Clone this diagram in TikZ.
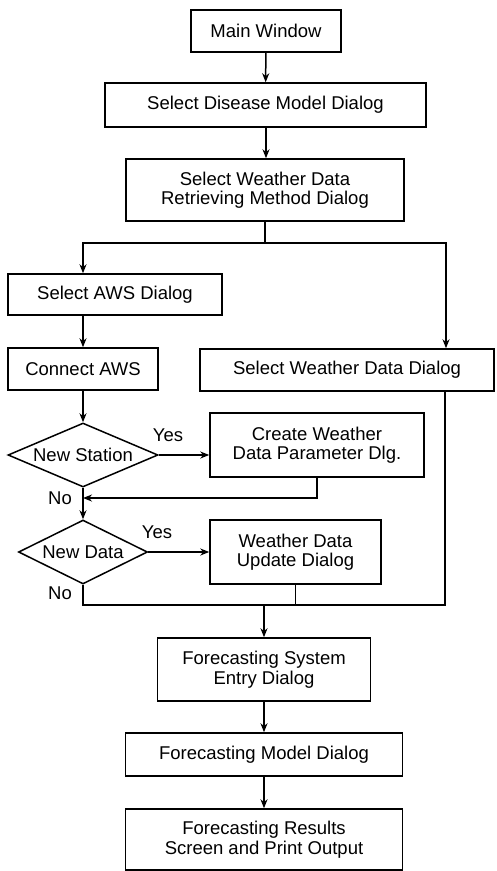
\documentclass[tikz,border=0pt]{standalone}
\usepackage{fontspec}
\setmainfont{Liberation Sans}
\usepackage{tikz}
\usetikzlibrary{positioning,shapes.geometric,arrows.meta}

\begin{document}
\begin{tikzpicture}[x=1pt, y=-1pt,
  every node/.style={font=\fontsize{18.5}{19.5}\selectfont},
  box/.style={draw, line width=1.5pt, align=center, inner sep=0pt},
  decision/.style={draw, diamond, line width=1.5pt, inner sep=0pt},
  flow/.style={line width=1.5pt, -{Stealth[length=9pt, width=7pt]}},
  link/.style={line width=1.5pt}]
  \useasboundingbox (0,0) rectangle (496,871);
  % Nodes
  \node[box, minimum width=150pt, minimum height=42pt] (main) at (266,31) {Main Window};
  \node[box, minimum width=321pt, minimum height=44pt] (disease) at (265.5,105) {Select Disease Model Dialog};
  \node[box, minimum width=278pt, minimum height=62pt] (method) at (265,190) {Select Weather Data\\Retrieving Method Dialog};
  \node[box, minimum width=214pt, minimum height=41pt] (aws) at (115,294.5) {Select AWS Dialog};
  \node[box, minimum width=150pt, minimum height=42pt] (connect) at (83,369) {Connect AWS};
  \node[box, minimum width=294pt, minimum height=42pt] (weather) at (347,370) {Select Weather Data Dialog};
  \node[decision, aspect=2.34, minimum width=150pt, minimum height=64pt] (station) at (83,455) {New Station};
  \node[box, minimum width=214pt, minimum height=64pt] (param) at (317,445) {Create Weather\\Data Parameter Dlg.};
  \node[decision, aspect=2.0, minimum width=129pt, minimum height=64pt] (newdata) at (83,552) {New Data};
  \node[box, minimum width=171pt, minimum height=64pt] (update) at (295.5,552) {Weather Data\\Update Dialog};
  \node[box, minimum width=213pt, minimum height=63pt] (entry) at (264,669.5) {Forecasting System\\Entry Dialog};
  \node[box, minimum width=277pt, minimum height=43pt] (model) at (264,754.5) {Forecasting Model Dialog};
  \node[box, minimum width=277pt, minimum height=61pt] (results) at (264,839.5) {Forecasting Results\\Screen and Print Output};
  % Labels
  \node (yes1) at (168,435) {Yes};
  \node (no1) at (60,498) {No};
  \node (yes2) at (157,532) {Yes};
  \node (no2) at (60,593) {No};
  % Junctions
  \coordinate (split) at (265,243);
  \coordinate (rbus) at (446,243);
  \coordinate (join) at (83,498);
  \coordinate (bl) at (83,605);
  \coordinate (br) at (445,605);
  % Edges
  \draw[flow] (main) -- (disease);
  \draw[flow] (disease.south -| main) -- (method.north -| main);
  \draw[link] (method.south) -- (split);
  \draw[flow] (split) -| (connect.north |- aws.north);
  \draw[flow] (split) -- (rbus) -- (rbus |- weather.north);
  \draw[flow] (connect.north |- aws.south) -- (connect.north);
  \draw[flow] (connect) -- (station);
  \draw[flow] (station.east) -- (param.west |- station.east);
  \draw[flow] (param.south) |- (join);
  \draw[flow] (station.south) -- (newdata.north);
  \draw[flow] (newdata.east) -- (update.west);
  \draw[link] (newdata.south) -- (bl) -- (br) -- (br |- weather.south);
  \draw[link] (update.south) -- (update.south |- bl);
  \draw[flow] (entry.north |- bl) -- (entry.north);
  \draw[flow] (entry) -- (model);
  \draw[flow] (model) -- (results);
\end{tikzpicture}
\end{document}
